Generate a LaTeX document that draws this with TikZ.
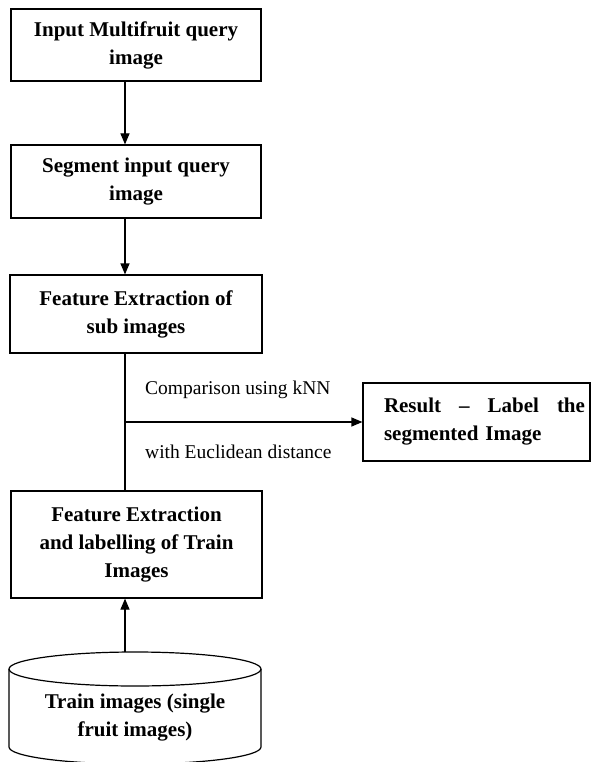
\documentclass[tikz,border=0pt]{standalone}
\usepackage{fontspec}
\setmainfont{Liberation Serif}
\usetikzlibrary{arrows.meta}
\begin{document}
\begin{tikzpicture}[x=1pt,y=-1pt,
  box/.style={draw, line width=1.2pt, font=\bfseries\fontsize{21}{28}\selectfont, align=center, inner sep=0pt},
  arr/.style={line width=1.2pt, -{Triangle[length=11pt,width=9pt]}},
  lab/.style={font=\fontsize{19.5}{24}\selectfont, anchor=west, inner sep=0pt},
  ln/.style={line width=1.2pt}]
\useasboundingbox (0,0) rectangle (595,762);
\clip (0,0) rectangle (595,762);
\fill[white] (0,0) rectangle (595,762);

\node[box, minimum width=250pt, minimum height=72pt] (b1) at (136,45) {Input Multifruit query\\image};
\node[box, minimum width=250pt, minimum height=73pt] (b2) at (136,181.5) {Segment input query\\image};
\node[box, minimum width=252pt, minimum height=78pt] (b3) at (136,314) {Feature Extraction of\\sub images};
\node[box, minimum width=227pt, minimum height=78pt, text width=227pt, align=left] (res) at (476.5,422)
  {\hspace*{21pt}\hbox to 201pt{Result\hfill–\hfill Label\hfill the}\\\hspace*{21pt}segmented Image};
\node[box, minimum width=251pt, minimum height=107pt] (b5) at (136.5,544.5) {Feature Extraction\\and labelling of Train\\Images};

% cylinder
\draw[ln] (9,669) -- (9,747) arc[start angle=180, end angle=0, x radius=126, y radius=17] -- (261,669);
\draw[ln] (135,669) ellipse[x radius=126, y radius=17];
\node[font=\bfseries\fontsize{21}{28}\selectfont, align=center, inner sep=0pt] (db) at (135,718) {Train images (single\\fruit images)};
\coordinate (dbtop) at (135,652);

\node[lab] (l1) at (145,390) {Comparison using kNN};
\node[lab] (l2) at (145,452) {with Euclidean distance};

\coordinate (ax) at (125,0);
\draw[arr] (b1.south -| ax) -- (b2.north -| ax);
\draw[arr] (b2.south -| ax) -- (b3.north -| ax);
\draw[ln] (b3.south -| ax) -- (b5.north -| ax);
\draw[arr] (res.west -| ax) -- (res.west);
\draw[arr] (dbtop -| ax) -- (b5.south -| ax);
\end{tikzpicture}
\end{document}
